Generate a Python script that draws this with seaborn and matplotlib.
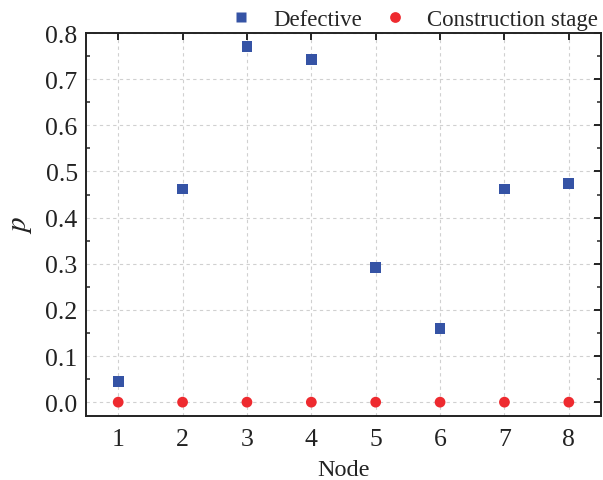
import matplotlib
matplotlib.use("Agg")
import matplotlib.pyplot as plt
import seaborn as sns
import pandas as pd
from matplotlib.ticker import MultipleLocator

nodes = [1, 2, 3, 4, 5, 6, 7, 8]
defective = [0.045, 0.462, 0.770, 0.742, 0.291, 0.160, 0.462, 0.474]
construction = [0.0, 0.0, 0.0, 0.0, 0.0, 0.0, 0.0, 0.0]
y_ticks = [0.0, 0.1, 0.2, 0.3, 0.4, 0.5, 0.6, 0.7, 0.8]

df = pd.DataFrame({
    "Node": nodes * 2,
    "p": defective + construction,
    "Series": ["Defective"] * len(nodes) + ["Construction stage"] * len(nodes),
})

sns.set_theme(style="white")
plt.rcParams["font.family"] = ["Liberation Serif", "DejaVu Serif"]
plt.rcParams["mathtext.fontset"] = "stix"

fig = plt.figure(figsize=(6.03, 4.81), dpi=100)
ax = fig.add_axes([86 / 603, 1 - 417 / 481, (601 - 86) / 603, (417 - 34) / 481])

ax.grid(True, color="#d0d0d0", linestyle=(0, (3, 3)), linewidth=0.8)
ax.set_axisbelow(True)

sns.scatterplot(
    data=df, x="Node", y="p", hue="Series", style="Series",
    markers={"Defective": "s", "Construction stage": "o"},
    palette={"Defective": "#3553a5", "Construction stage": "#ee2a2f"},
    s=60, edgecolor="none", ax=ax, zorder=3,
)

ax.set_xlim(0.5, 8.5)
ax.set_ylim(-0.03, 0.8)
ax.set_xticks(nodes)
ax.set_yticks(y_ticks)
ax.set_yticklabels([f"{v:.1f}" for v in y_ticks])
ax.yaxis.set_minor_locator(MultipleLocator(0.05))

for s in ax.spines.values():
    s.set_color("#222222")
    s.set_linewidth(1.4)

ax.tick_params(axis="both", which="major", direction="in", length=5, width=1.4,
               top=True, right=True, labelsize=18.5, colors="#222222", pad=6)
ax.tick_params(axis="x", which="major", pad=9)
ax.tick_params(axis="y", which="minor", direction="in", length=3, width=1.1,
               left=True, right=True)
ax.tick_params(axis="both", labelcolor="#222222")

ax.set_xlabel("Node", fontsize=17.5, color="#222222", labelpad=6)
ax.set_ylabel("$p$", fontsize=21, color="#222222", labelpad=8)

handles, labels = ax.get_legend_handles_labels()
ax.legend(handles, labels, loc="center right", bbox_to_anchor=(1.012, 1.034),
          ncol=2, frameon=False, fontsize=16.5, handlelength=2.0,
          handletextpad=0.4, columnspacing=0.45, borderaxespad=0,
          markerscale=1.0)

fig.savefig("out.png", dpi=100)
